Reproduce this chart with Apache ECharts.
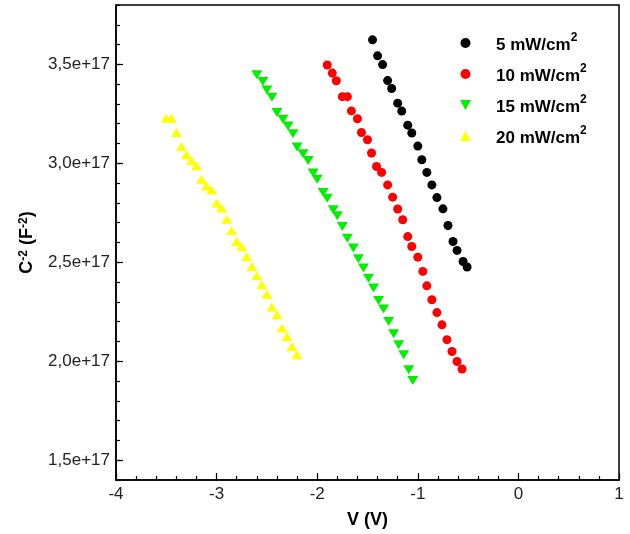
<!DOCTYPE html>
<html><head><meta charset="utf-8">
<script src="https://cdn.jsdelivr.net/npm/echarts@6/dist/echarts.min.js"></script>
<style>html,body{margin:0;padding:0;background:#fff}#c{width:630px;height:534px}</style>
</head><body><div id="c"></div>
<script>
// Series names
const names = ['5 mW/cm²', '10 mW/cm²', '15 mW/cm²', '20 mW/cm²'];
// V (V) values and C^-2 values (in units of 1e17 F^-2)
const v5 = [-1.45,-1.40,-1.35,-1.30,-1.26,-1.20,-1.16,-1.10,-1.06,-1.00,-0.96,-0.91,-0.86,-0.81,-0.75,-0.70,-0.65,-0.61,-0.55,-0.51];
const c5 = [3.624,3.543,3.499,3.418,3.378,3.304,3.264,3.193,3.153,3.087,3.018,2.954,2.891,2.827,2.770,2.686,2.605,2.560,2.504,2.476];
const v10 = [-1.90,-1.85,-1.81,-1.75,-1.70,-1.66,-1.60,-1.56,-1.50,-1.46,-1.41,-1.36,-1.30,-1.25,-1.20,-1.15,-1.10,-1.06,-1.00,-0.95,-0.91,-0.86,-0.81,-0.76,-0.71,-0.66,-0.61,-0.56];
const c10 = [3.497,3.456,3.417,3.337,3.337,3.265,3.225,3.156,3.119,3.052,2.984,2.954,2.891,2.829,2.769,2.715,2.630,2.580,2.526,2.454,2.381,2.311,2.246,2.184,2.109,2.049,1.999,1.961];
const v15 = [-2.60,-2.54,-2.50,-2.45,-2.40,-2.34,-2.29,-2.24,-2.20,-2.14,-2.09,-2.04,-2.00,-1.94,-1.90,-1.84,-1.80,-1.75,-1.70,-1.64,-1.59,-1.54,-1.49,-1.44,-1.39,-1.34,-1.29,-1.24,-1.19,-1.14,-1.09,-1.05];
const c15 = [3.447,3.413,3.371,3.334,3.257,3.223,3.189,3.150,3.082,3.048,3.014,2.951,2.920,2.853,2.824,2.765,2.735,2.681,2.622,2.572,2.518,2.471,2.420,2.370,2.307,2.264,2.201,2.139,2.083,2.033,1.957,1.903];
const v20 = [-3.50,-3.45,-3.40,-3.35,-3.30,-3.25,-3.20,-3.15,-3.10,-3.05,-3.00,-2.95,-2.90,-2.85,-2.80,-2.75,-2.70,-2.65,-2.60,-2.55,-2.50,-2.45,-2.40,-2.35,-2.30,-2.25,-2.20];
const c20 = [3.228,3.228,3.156,3.085,3.043,3.014,2.987,2.920,2.886,2.865,2.799,2.774,2.718,2.661,2.605,2.580,2.529,2.479,2.432,2.386,2.338,2.274,2.235,2.168,2.125,2.075,2.033];

const colors = ['#000000', '#ff0000', '#00ee00', '#ffff00'];
const symbols = ['circle', 'circle', 'path://M0,0L10,0L5,9Z', 'path://M5,0L10,9L0,9Z'];
const sizes = [9, 9, [11, 9], [11, 9]];
const xs = [v5, v10, v15, v20];
const ys = [c5, c10, c15, c20];

const FONT = 'Arial, "Liberation Sans", Helvetica, sans-serif';
const chart = echarts.init(document.getElementById('c'), null, {renderer: 'canvas'});

const series = names.map((n, i) => ({
  name: n,
  type: 'scatter',
  xAxisIndex: 0,
  yAxisIndex: 0,
  symbol: symbols[i],
  symbolSize: sizes[i],
  itemStyle: {color: colors[i], opacity: 1},
  data: xs[i].map((v, k) => [v, ys[i][k]]),
  z: 2 + i
}));

chart.setOption({
  animation: false,
  backgroundColor: '#fff',
  grid: {left: 116, right: 11, top: 5, bottom: 54, show: true, borderColor: '#000', borderWidth: 1.5, backgroundColor: 'transparent'},
  legend: {
    orient: 'vertical',
    left: 455,
    top: 27,
    itemWidth: 11,
    itemHeight: 10,
    itemGap: 9,
    data: names,
    formatter: n => '{b|' + n.replace('²', '') + '}{sup|2}',
    textStyle: {
      fontFamily: FONT, fontWeight: 'bold', fontSize: 17, color: '#000',
      rich: {
        b: {fontFamily: FONT, fontWeight: 'bold', fontSize: 17, color: '#000', lineHeight: 22, verticalAlign: 'bottom', padding: [0, 0, 0, 20]},
        sup: {fontFamily: FONT, fontWeight: 'bold', fontSize: 12, color: '#000', lineHeight: 12, verticalAlign: 'top'}
      }
    }
  },
  xAxis: {
    type: 'value',
    min: -4, max: 1, interval: 1,
    name: 'V (V)',
    nameLocation: 'middle',
    nameGap: 31,
    nameTextStyle: {fontFamily: FONT, fontWeight: 'bold', fontSize: 18, color: '#000'},
    axisLine: {show: true, onZero: false, lineStyle: {color: '#000', width: 1.5}},
    axisTick: {show: true, inside: true, length: 7, lineStyle: {color: '#000', width: 1.2}},
    minorTick: {show: true, splitNumber: 5, length: 4, lineStyle: {color: '#000', width: 1.2}},
    axisLabel: {fontFamily: FONT, fontSize: 17, color: '#222', margin: 6},
    splitLine: {show: false}
  },
  yAxis: [{
    type: 'value',
    position: 'left',
    min: 1.4, max: 3.8, interval: 0.1,
    axisLine: {show: true, onZero: false, lineStyle: {color: '#000', width: 1.5}},
    axisTick: {show: true, inside: true, length: 4, lineStyle: {color: '#000', width: 1.2}},
    axisLabel: {show: false},
    splitLine: {show: false}
  }, {
    type: 'value',
    position: 'left',
    min: 1.4, max: 3.8, splitNumber: 5,
    name: 'C{sup|-2} (F{sup|-2})',
    nameLocation: 'middle',
    nameGap: 80,
    nameTextStyle: {
      fontFamily: FONT, fontWeight: 'bold', fontSize: 18, color: '#000',
      rich: {
        sup: {fontFamily: FONT, fontWeight: 'bold', fontSize: 12, color: '#000', verticalAlign: 'top', lineHeight: 12}
      }
    },
    axisLine: {show: false, onZero: false},
    axisTick: {show: true, inside: true, length: 7, lineStyle: {color: '#000', width: 1.2}},
    axisLabel: {
      fontFamily: FONT, fontSize: 17, color: '#222', margin: 6,
      showMinLabel: false, showMaxLabel: false,
      formatter: v => v.toFixed(1).replace('.', ',') + 'e+17'
    },
    splitLine: {show: false}
  }],
  series: series
});
</script>
</body></html>
